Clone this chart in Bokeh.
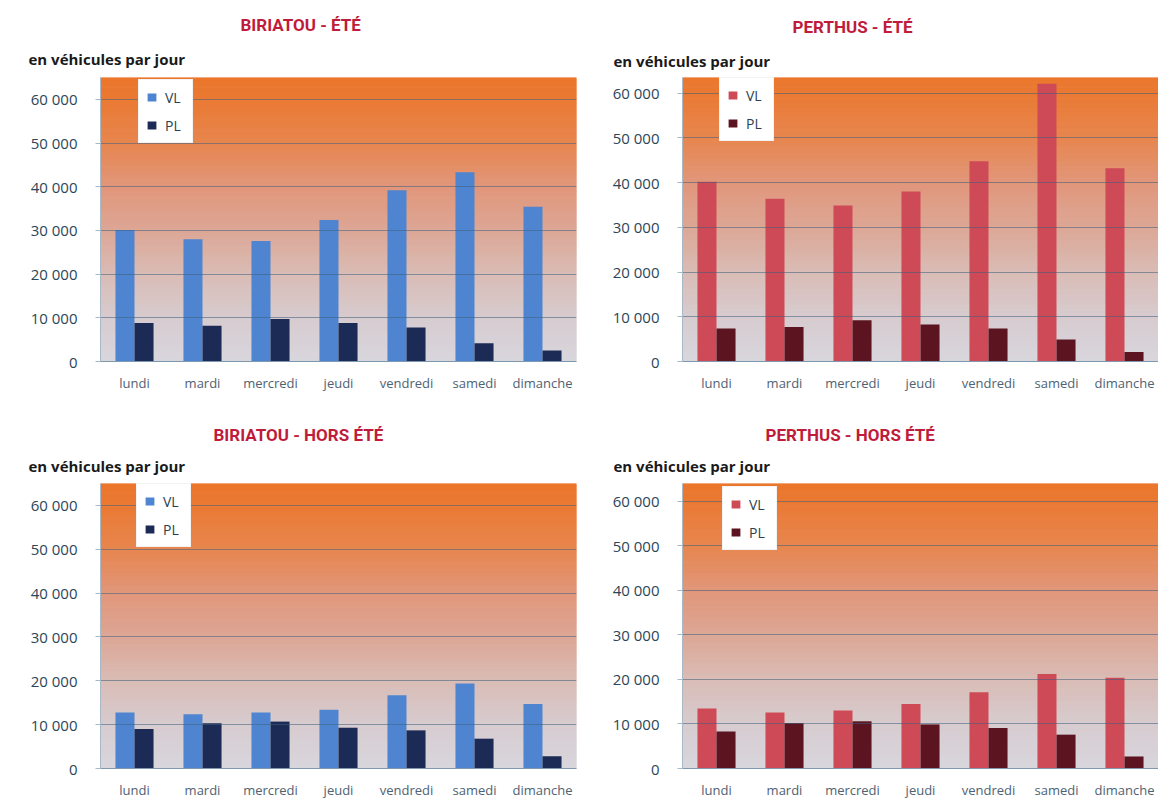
import numpy as np
from bokeh.plotting import figure
from bokeh.models import (FactorRange, Range1d, FixedTicker, Title, Legend,
                          LegendItem, ColumnDataSource)
from bokeh.transform import dodge
from bokeh.layouts import row, column
from bokeh.embed import file_html
from bokeh.resources import INLINE

# ---------------- data ----------------
days = ["lundi", "mardi", "mercredi", "jeudi", "vendredi", "samedi", "dimanche"]
series = ["VL", "PL"]
y_ticks = [0, 10000, 20000, 30000, 40000, 50000, 60000]
y_tick_labels = ["0", "10 000", "20 000", "30 000", "40 000", "50 000", "60 000"]
subtitle_text = "en véhicules par jour"

titles = ["BIRIATOU - ÉTÉ", "PERTHUS - ÉTÉ", "BIRIATOU - HORS ÉTÉ", "PERTHUS - HORS ÉTÉ"]

biriatou_ete_vl = [30100, 28000, 27600, 32400, 39200, 43300, 35400]
biriatou_ete_pl = [8800, 8200, 9700, 8800, 7800, 4200, 2500]
perthus_ete_vl = [40200, 36400, 34900, 38000, 44800, 62100, 43200]
perthus_ete_pl = [7400, 7700, 9200, 8300, 7400, 4900, 2100]
biriatou_hors_vl = [12800, 12400, 12800, 13400, 16700, 19400, 14700]
biriatou_hors_pl = [9000, 10300, 10700, 9300, 8700, 6800, 2800]
perthus_hors_vl = [13500, 12600, 13000, 14500, 17100, 21200, 20400]
perthus_hors_pl = [8300, 10200, 10600, 9900, 9100, 7600, 2700]

# ---------------- style ----------------
BLUE_VL, BLUE_PL = "#4F85D0", "#1C2B55"
RED_VL, RED_PL = "#CF4A57", "#5C1520"
TITLE_COLOR = "#BF1B3A"
TICK_COLOR = "#2A4658"

grad_stops = [(0.00, "#D8D6DD"), (0.15, "#D7CCD0"), (0.31, "#D9BCB5"),
              (0.46, "#DCA796"), (0.62, "#E1967A"), (0.77, "#E7864F"),
              (0.92, "#EA7A34"), (1.00, "#EB762B")]


def _hex(c):
    return np.array([int(c[i:i + 2], 16) for i in (1, 3, 5)], dtype=float)


def grad_color(t):
    for (t0, c0), (t1, c1) in zip(grad_stops[:-1], grad_stops[1:]):
        if t <= t1:
            f = (t - t0) / (t1 - t0) if t1 > t0 else 0
            c = _hex(c0) * (1 - f) + _hex(c1) * f
            return "#%02x%02x%02x" % tuple(int(round(v)) for v in c)
    return grad_stops[-1][1]


def make_panel(title, vl, pl, vl_color, pl_color, width, height, b_left, b_right,
               b_top, b_bottom, y_end, title_off, sub_off, title_st, sub_st,
               leg_x, leg_top):
    p = figure(x_range=FactorRange(factors=days, range_padding=0),
               y_range=Range1d(0, y_end), width=width, height=height,
               min_border_left=b_left, min_border_right=b_right,
               min_border_top=b_top, min_border_bottom=b_bottom,
               toolbar_location=None, output_backend="svg", title=None)
    p.outline_line_color = None
    p.background_fill_color = "white"
    p.border_fill_color = "white"

    frame_h = height - b_top - b_bottom

    # gradient background (decoration only)
    n = 110
    edges = np.linspace(0, y_end, n + 1)
    cols = [grad_color((edges[i] + edges[i + 1]) / 2 / 65000) for i in range(n)]
    p.quad(left=0, right=len(days), bottom=edges[:-1], top=edges[1:],
           fill_color=cols, line_color=cols, line_width=1, level="underlay")

    src = ColumnDataSource(dict(day=days, vl=vl, pl=pl))
    r_vl = p.vbar(x=dodge("day", -0.14, range=p.x_range), top="vl", width=0.28,
                  source=src, fill_color=vl_color, line_color=None)
    r_pl = p.vbar(x=dodge("day", 0.14, range=p.x_range), top="pl", width=0.28,
                  source=src, fill_color=pl_color, line_color=None)

    # grid
    p.xgrid.grid_line_color = None
    p.ygrid.ticker = FixedTicker(ticks=y_ticks[1:])
    p.ygrid.grid_line_color = "#3E5F7C"
    p.ygrid.grid_line_alpha = 0.55
    p.ygrid.grid_line_width = 1
    p.ygrid.level = "glyph"

    # y axis
    ya = p.yaxis[0]
    ya.ticker = FixedTicker(ticks=y_ticks)
    ya.major_label_overrides = dict(zip(y_ticks, y_tick_labels))
    ya.major_label_text_font = "Open Sans"
    ya.major_label_text_font_size = "15px"
    ya.major_label_text_color = TICK_COLOR
    ya.axis_line_color = "#A9B8C6"
    ya.major_tick_line_color = "#A9B8C6"
    ya.major_tick_out = 5
    ya.major_tick_in = 0
    ya.minor_tick_line_color = None
    ya.major_label_standoff = 18

    # x axis
    xa = p.xaxis[0]
    xa.axis_line_color = "#7E98B0"
    xa.major_tick_line_color = None
    xa.major_tick_out = 0
    xa.major_tick_in = 0
    xa.major_label_text_font = "Open Sans"
    xa.major_label_text_font_size = "13px"
    xa.major_label_text_color = "#4E6272"
    xa.major_label_standoff = 12

    # legend
    leg_h = 62
    legend = Legend(items=[LegendItem(label=series[0], renderers=[r_vl]),
                           LegendItem(label=series[1], renderers=[r_pl])],
                    location=(leg_x, frame_h - leg_top - leg_h),
                    padding=7, spacing=8, glyph_width=11, glyph_height=10,
                    label_height=20, label_standoff=8,
                    label_text_font="Open Sans", label_text_font_size="14px",
                    label_text_color="#2C3E50",
                    background_fill_color="white", background_fill_alpha=1,
                    border_line_color="#E8E8E8", margin=0)
    p.add_layout(legend)

    # subtitle (closest to frame) then title
    p.add_layout(Title(text=subtitle_text, align="left", offset=sub_off,
                       standoff=sub_st, text_font="Open Sans", text_font_size="15px",
                       text_font_style="bold", text_color="#1A1A1A"), "above")
    p.add_layout(Title(text=title, align="left", offset=title_off,
                       standoff=title_st, text_font="Roboto", text_font_size="17px",
                       text_font_style="bold", text_color=TITLE_COLOR), "above")
    return p


p1 = make_panel(titles[0], biriatou_ete_vl, biriatou_ete_pl, BLUE_VL, BLUE_PL,
                600, 410, 100, 24, 77, 49, 65000, 140, -72, 5, 18, 38, 4)
p2 = make_panel(titles[1], perthus_ete_vl, perthus_ete_pl, RED_VL, RED_PL,
                558, 410, 82, 0, 75, 48, 63500, 110, -69, 9, 14, 37, 5)
p3 = make_panel(titles[2], biriatou_hors_vl, biriatou_hors_pl, BLUE_VL, BLUE_PL,
                600, 395, 100, 24, 71, 37, 65000, 113, -72, 1, 16, 36, 4)
p4 = make_panel(titles[3], perthus_hors_vl, perthus_hors_pl, RED_VL, RED_PL,
                558, 395, 82, 0, 73, 35, 64000, 83, -69, 1, 16, 40, 7)

layout = column(row(p1, p2), row(p3, p4))
open("out.html", "w").write(file_html(layout, INLINE))
